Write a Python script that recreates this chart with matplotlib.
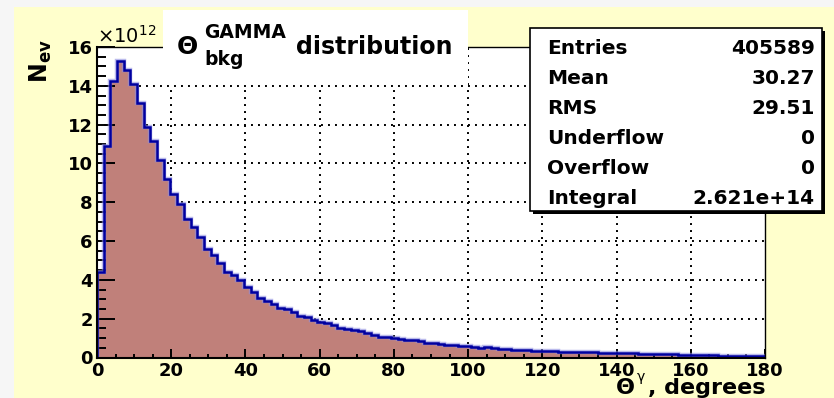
import numpy as np
import matplotlib
matplotlib.use("Agg")
import matplotlib.pyplot as plt
from matplotlib.patches import Rectangle
from matplotlib.ticker import MultipleLocator

# ---------------- data ----------------
x_range = (0, 180)
n_bins = 100
# bin contents in units of 1e12
counts_e12 = [
    4.40, 10.90, 14.25, 15.30, 14.80, 14.10, 13.10, 11.90, 11.15, 10.20,
    9.20, 8.45, 7.90, 7.15, 6.70, 6.20, 5.60, 5.26, 4.86, 4.40,
    4.25, 3.97, 3.63, 3.37, 3.08, 2.90, 2.77, 2.56, 2.50, 2.33,
    2.12, 2.08, 1.94, 1.84, 1.76, 1.66, 1.52, 1.45, 1.40, 1.34,
    1.28, 1.18, 1.08, 1.05, 1.00, 0.96, 0.92, 0.88, 0.84, 0.76,
    0.73, 0.67, 0.66, 0.62, 0.60, 0.57, 0.55, 0.50, 0.52, 0.48,
    0.45, 0.43, 0.41, 0.39, 0.37, 0.36, 0.35, 0.33, 0.31, 0.30,
    0.29, 0.28, 0.27, 0.27, 0.26, 0.25, 0.25, 0.24, 0.23, 0.22,
    0.21, 0.20, 0.19, 0.18, 0.18, 0.17, 0.16, 0.15, 0.15, 0.14,
    0.13, 0.12, 0.11, 0.10, 0.10, 0.09, 0.08, 0.08, 0.07, 0.06,
]
x_ticks = [0, 20, 40, 60, 80, 100, 120, 140, 160, 180]
y_ticks = [0, 2, 4, 6, 8, 10, 12, 14, 16]
stats_names = ["Entries", "Mean", "RMS", "Underflow", "Overflow", "Integral"]
stats_values = ["405589", "30.27", "29.51", "0", "0", "2.621e+14"]
title_symbol = "\u0398"
title_sup = "GAMMA"
title_sub = "bkg"
title_word = "distribution"
xlabel_symbol = "\u0398"
xlabel_sup = "\u03b3"
xlabel_word = ", degrees"
exponent_text = r"$\times10^{12}$"
ylabel_text = r"$\mathbf{N_{ev}}$"

# ---------------- style ----------------
W, H = 834, 398
plt.rcParams["font.family"] = ["DejaVu Sans"]
plt.rcParams["mathtext.fontset"] = "dejavusans"

def fx(x):
    return x / W

def fy(y):
    return 1 - y / H

fig = plt.figure(figsize=(W / 100, H / 100), dpi=100)
fig.patch.set_facecolor("#F6F6F6")

# yellow pad
fig.patches.append(Rectangle((fx(14), 0), 1 - fx(14), fy(7), transform=fig.transFigure,
                             facecolor="#FFFFCC", edgecolor="none", zorder=-5))

L, R, T, B = 97, 765, 47, 357.5
ax = fig.add_axes([fx(L), fy(B), (R - L) / W, (B - T) / H])
ax.set_facecolor("white")
ax.set_xlim(*x_range)
ax.set_ylim(y_ticks[0], y_ticks[-1])

edges = np.linspace(x_range[0], x_range[1], n_bins + 1)
vals = np.array(counts_e12)

# dotted grid (below histogram)
for v in x_ticks[1:-1]:
    ax.axvline(v, color="black", lw=1.4, linestyle=(0, (1, 2.6)), zorder=1)
for v in y_ticks[1:]:
    ax.axhline(v, color="black", lw=1.4, linestyle=(0, (1, 2.6)), zorder=1)

ax.stairs(vals, edges, fill=True, facecolor="#C0807A", edgecolor="none", zorder=2)
ax.stairs(vals, edges, baseline=0, color="#8C8CE0", lw=3.2, zorder=3, alpha=0.6)
ax.stairs(vals, edges, baseline=0, color="#0000A0", lw=1.8, zorder=4)

ax.set_xticks(x_ticks)
ax.set_yticks(y_ticks)
ax.xaxis.set_minor_locator(MultipleLocator(5))
ax.yaxis.set_minor_locator(MultipleLocator(0.5))
ax.tick_params(axis="y", which="major", direction="in", length=13, width=1.4, pad=3,
               labelsize=13, right=False)
ax.tick_params(axis="y", which="minor", direction="in", length=6.5, width=1.4, right=False)
ax.tick_params(axis="x", which="major", direction="in", length=6.5, width=1.4, pad=3,
               labelsize=13, top=False)
ax.tick_params(axis="x", which="minor", direction="in", length=3, width=1.4, top=False)
for lab in ax.get_xticklabels() + ax.get_yticklabels():
    lab.set_fontweight("bold")
ax.set_axisbelow(False)
for side in ("left", "bottom"):
    ax.spines[side].set_linewidth(1.5)
for side in ("top", "right"):
    ax.spines[side].set_linewidth(1.0)
for s in ax.spines.values():
    s.set_zorder(6)

# exponent and y label
fig.text(fx(97), fy(43), exponent_text, fontsize=14, ha="left", va="baseline")
fig.text(fx(41), fy(39), ylabel_text, fontsize=17, rotation=90, ha="center", va="top")

# title box
fig.patches.append(Rectangle((fx(163), fy(85)), fx(468) - fx(163), fy(10) - fy(85),
                             transform=fig.transFigure, facecolor="white",
                             edgecolor="none", zorder=5))
fig.text(fx(177), fy(54), title_symbol, fontsize=18, fontweight="bold", ha="left",
         va="baseline", zorder=6)
fig.text(fx(204), fy(38), title_sup, fontsize=13.5, fontweight="bold", ha="left",
         va="baseline", zorder=6)
fig.text(fx(204), fy(65), title_sub, fontsize=13.5, fontweight="bold", ha="left",
         va="baseline", zorder=6)
fig.text(fx(296), fy(54), title_word, fontsize=17, fontweight="bold", ha="left",
         va="baseline", zorder=6)

# stats box with shadow
bx0, by0, bx1, by1 = 530, 28, 822, 211
fig.patches.append(Rectangle((fx(bx0 + 3), fy(by1 + 3)), fx(bx1) - fx(bx0), fy(by0) - fy(by1),
                             transform=fig.transFigure, facecolor="black",
                             edgecolor="none", zorder=7))
fig.patches.append(Rectangle((fx(bx0), fy(by1)), fx(bx1) - fx(bx0), fy(by0) - fy(by1),
                             transform=fig.transFigure, facecolor="white",
                             edgecolor="black", lw=1.2, zorder=8))
row_centers = [46, 76, 106.5, 137, 167, 197]
for name, val, yc in zip(stats_names, stats_values, row_centers):
    fig.text(fx(547), fy(yc), name, fontsize=14.5, fontweight="bold", ha="left",
             va="center_baseline", zorder=9)
    fig.text(fx(815), fy(yc), val, fontsize=14.5, fontweight="bold", ha="right",
             va="center_baseline", zorder=9)

# x label
fig.text(fx(765), fy(394), xlabel_word, fontsize=16, fontweight="bold", ha="right",
         va="baseline", zorder=6)
fig.text(fx(616), fy(394), xlabel_symbol, fontsize=16, fontweight="bold", ha="left",
         va="baseline", zorder=6)
fig.text(fx(637), fy(381), xlabel_sup, fontsize=10, ha="left", va="baseline", zorder=6)

fig.savefig("out.png", dpi=100)
